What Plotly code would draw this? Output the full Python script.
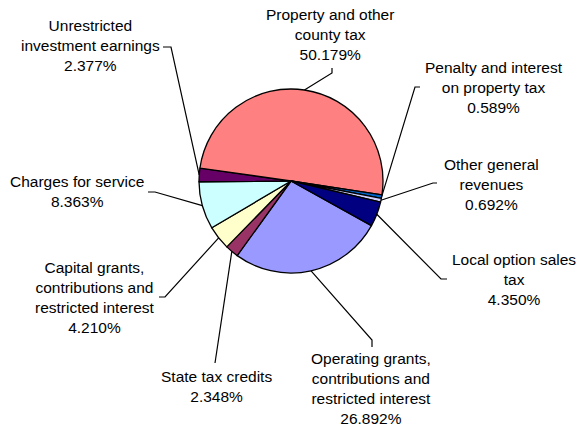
import math
import plotly.graph_objects as go

# ---- data (clockwise order, first slice = Operating grants) ----
labels = [
    "Operating grants,<br>contributions and<br>restricted interest",
    "State tax credits",
    "Capital grants,<br>contributions and<br>restricted interest",
    "Charges for service",
    "Unrestricted<br>investment earnings",
    "Property and other<br>county tax",
    "Penalty and interest<br>on property tax",
    "Other general<br>revenues",
    "Local option sales<br>tax",
]
values = [26.892, 2.348, 4.210, 8.363, 2.377, 50.179, 0.589, 0.692, 4.350]
colors = ["#9999FF", "#993366", "#FFFFCC", "#CCFFFF", "#660066",
          "#FF8080", "#0066CC", "#CCCCFF", "#000080"]

# ---- layout constants (pixels) ----
W, H = 579, 427
CX, CY, R = 291, 181, 92
ROT = 119
FONT = dict(family="Liberation Sans, Arial, sans-serif", size=15.5, color="black")

# label centers and leader start/elbow points per slice
label_pos = [(371, 388), (216, 386), (95, 297), (77, 191), (90, 45),
             (330, 34), (494, 87), (491, 184), (514, 279)]
leader_pts = [
    [(372, 347), (372, 340)],
    [(215, 363)],
    [(159, 297), (165, 297)],
    [(148, 192), (155, 192)],
    [(163, 47), (171, 47)],
    [(332, 68), (332, 73)],
    [(420, 87), (415, 87)],
    [(437, 183), (433, 183)],
    [(447, 279), (441, 279)],
]

fig = go.Figure()
fig.add_trace(go.Pie(
    labels=[l.replace("<br>", " ") for l in labels],
    values=values,
    sort=False,
    direction="clockwise",
    rotation=ROT,
    marker=dict(colors=colors, line=dict(color="black", width=1.3)),
    textinfo="none",
    hoverinfo="skip",
    showlegend=False,
    domain=dict(x=[(CX - R) / W, (CX + R) / W], y=[1 - (CY + R) / H, 1 - (CY - R) / H]),
))

total = sum(values)
cum = 0.0
shapes = []
annotations = []
for i, v in enumerate(values):
    mid = ROT + 360.0 * (cum + v / 2) / total
    cum += v
    a = math.radians(mid)
    ex, ey = CX + R * math.sin(a), CY - R * math.cos(a)
    pts = leader_pts[i] + [(ex, ey)]
    path = "M " + " L ".join(f"{x:.2f},{y:.2f}" for x, y in pts)
    shapes.append(dict(type="path", xref="x", yref="y", path=path,
                       line=dict(color="black", width=1.2)))
    pct = 100.0 * v / total
    lx, ly = label_pos[i]
    annotations.append(dict(x=lx, y=ly, xref="x", yref="y",
                            text=f"{labels[i]}<br>{pct:.3f}%",
                            showarrow=False, align="center",
                            xanchor="center", yanchor="middle", font=FONT))

fig.update_layout(
    width=W, height=H,
    margin=dict(l=0, r=0, t=0, b=0),
    paper_bgcolor="white", plot_bgcolor="rgba(0,0,0,0)",
    xaxis=dict(range=[0, W], visible=False, fixedrange=True),
    yaxis=dict(range=[H, 0], visible=False, fixedrange=True),
    shapes=shapes,
    annotations=annotations,
    showlegend=False,
)

fig.write_html("out.html")
